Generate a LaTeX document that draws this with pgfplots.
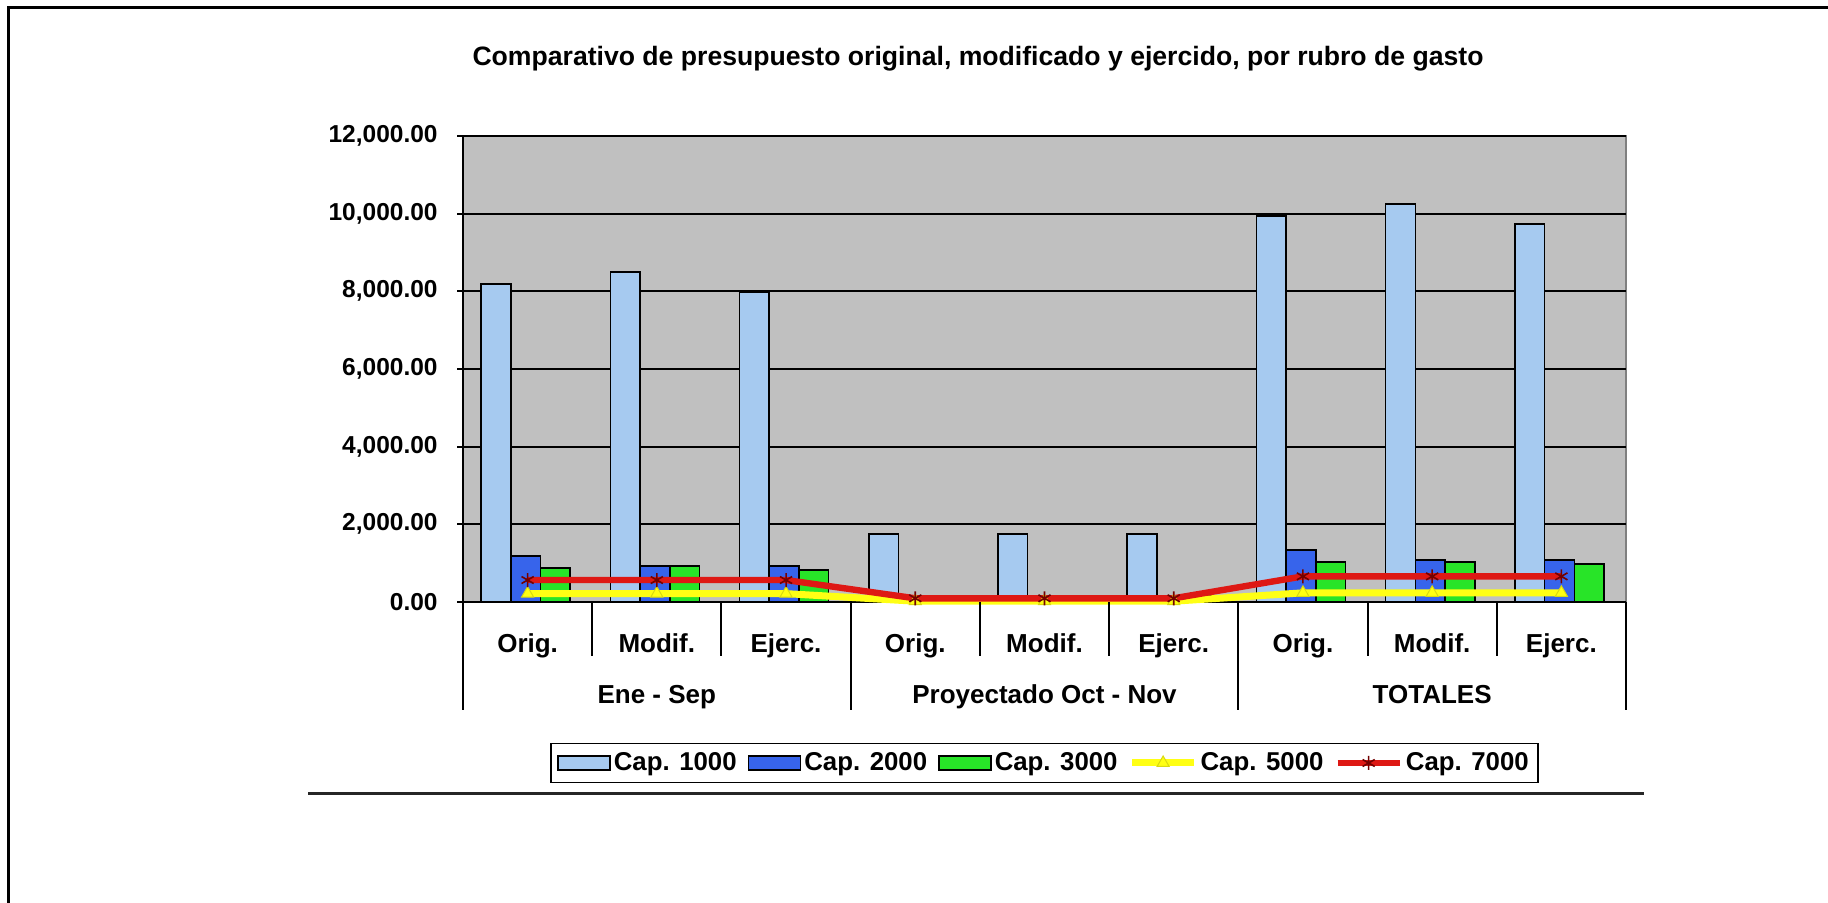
\documentclass[border=0pt]{standalone}
\usepackage{fontspec}
\setmainfont{Liberation Sans}
\usepackage{pgfplots}
\pgfplotsset{compat=1.18}
\definecolor{plotgray}{RGB}{192,192,192}
\definecolor{c1}{RGB}{166,202,240}
\definecolor{c2}{RGB}{55,100,235}
\definecolor{c3}{RGB}{40,228,40}
\definecolor{c5}{RGB}{255,255,20}
\definecolor{c7}{RGB}{222,24,20}
\pgfplotsset{
  longline legend/.style={legend image code/.code={\draw[mark repeat=2, mark phase=2, ##1] plot coordinates {(0pt,0pt) (15.5pt,0pt) (31pt,0pt)};}},
  barleg/.style={legend image code/.code={\draw[fill=#1,draw=black,line width=0.8pt] (0pt,-3.5pt) rectangle (26pt,3.5pt);}},
}
\begin{document}
\begin{tikzpicture}[x=1pt,y=1pt]
\useasboundingbox (0,0) rectangle (914,451.5);
\draw[line width=1.5pt] (4.25,0) -- (4.25,447.75) -- (914,447.75);
\draw[line width=1.5pt, black!85] (154,54.5) -- (822,54.5);
\node[font=\bfseries\fontsize{13.3}{15}\selectfont, anchor=base, inner sep=0pt] at (489,418.7)
  {Comparativo de presupuesto original, modificado y ejercido, por rubro de gasto};
\begin{axis}[
  at={(231.5pt,150.5pt)}, anchor=south west,
  scale only axis, width=581.5pt, height=233pt,
  xmin=-0.5, xmax=8.5, ymin=0, ymax=12000,
  enlargelimits=false, clip=false,
  axis x line*=bottom, axis y line*=left,
  axis line style={black, line width=1pt},
  axis background/.style={fill=plotgray, draw=black!50, line width=0.8pt},
  ymajorgrids, major grid style={black, line width=0.9pt},
  ytick={0,2000,...,12000},
  scaled y ticks=false,
  tick align=outside, major tick length=3pt,
  ytick style={black, line width=0.9pt},
  xtick={0,...,8}, xtick style={draw=none},
  xticklabels={Orig.,Modif.,Ejerc.,Orig.,Modif.,Ejerc.,Orig.,Modif.,Ejerc.},
  xticklabel style={font=\bfseries\fontsize{13}{15}\selectfont, anchor=base, yshift=-22.5pt, inner sep=0pt},
  yticklabel style={font=\bfseries\fontsize{12.25}{14}\selectfont, anchor=east, inner sep=0pt, xshift=-9.5pt,
    /pgf/number format/.cd, fixed, fixed zerofill, precision=2, 1000 sep={,}, assume math mode=true},
  legend columns=5,
  legend style={at={(0.5,-0.3455)}, anchor=center, draw=black, line width=0.8pt, fill=white,
    font=\bfseries\fontsize{12.9}{14}\selectfont,
    inner xsep=3pt, inner ysep=3pt, nodes={inner sep=1.5pt},
    /tikz/every even column/.append style={column sep=4pt}},
]
\addplot[ybar, bar width=0.23, bar shift=-0.245, fill=c1, draw=black, line width=0.8pt, barleg=c1]
  coordinates {(0,8186)(1,8490)(2,7970)(3,1750)(4,1750)(5,1750)(6,9936)(7,10245)(8,9735)};
\addlegendentry{Cap. 1000}
\addplot[ybar, bar width=0.23, bar shift=-0.015, fill=c2, draw=black, line width=0.8pt, barleg=c2]
  coordinates {(0,1191)(1,933)(2,933)(3,155)(4,155)(5,155)(6,1345)(7,1088)(8,1088)};
\addlegendentry{Cap. 2000}
\addplot[ybar, bar width=0.23, bar shift=0.215, fill=c3, draw=black, line width=0.8pt, barleg=c3]
  coordinates {(0,874)(1,933)(2,831)(3,150)(4,150)(5,150)(6,1036)(7,1036)(8,972)};
\addlegendentry{Cap. 3000}
\addplot[color=c5, line width=3.5pt, mark=triangle*, mark size=3.5pt,
  mark options={fill=c5, draw=c5!85!black, line width=0.5pt}, longline legend]
  coordinates {(0,215)(1,215)(2,215)(3,20)(4,20)(5,20)(6,235)(7,235)(8,235)};
\addlegendentry{Cap. 5000}
\addplot[color=c7, line width=3.2pt, mark=asterisk, mark size=3.5pt,
  mark options={draw=black!55!red, line width=0.8pt}, longline legend]
  coordinates {(0,565)(1,565)(2,565)(3,95)(4,95)(5,95)(6,660)(7,660)(8,660)};
\addlegendentry{Cap. 7000}
\pgfplotsinvokeforeach{0.5,1.5,3.5,4.5,6.5,7.5}{\draw[black, line width=1pt] (axis cs:#1,0) -- ++(0pt,-27pt);}
\pgfplotsinvokeforeach{-0.5,2.5,5.5,8.5}{\draw[black, line width=1pt] (axis cs:#1,0) -- ++(0pt,-54pt);}
\node[font=\bfseries\fontsize{13}{15}\selectfont, anchor=base, inner sep=0pt, yshift=-51pt] at (axis cs:1,0) {Ene - Sep};
\node[font=\bfseries\fontsize{13}{15}\selectfont, anchor=base, inner sep=0pt, yshift=-51pt] at (axis cs:4,0) {Proyectado Oct - Nov};
\node[font=\bfseries\fontsize{13}{15}\selectfont, anchor=base, inner sep=0pt, yshift=-51pt] at (axis cs:7,0) {TOTALES};
\end{axis}
\end{tikzpicture}
\end{document}
